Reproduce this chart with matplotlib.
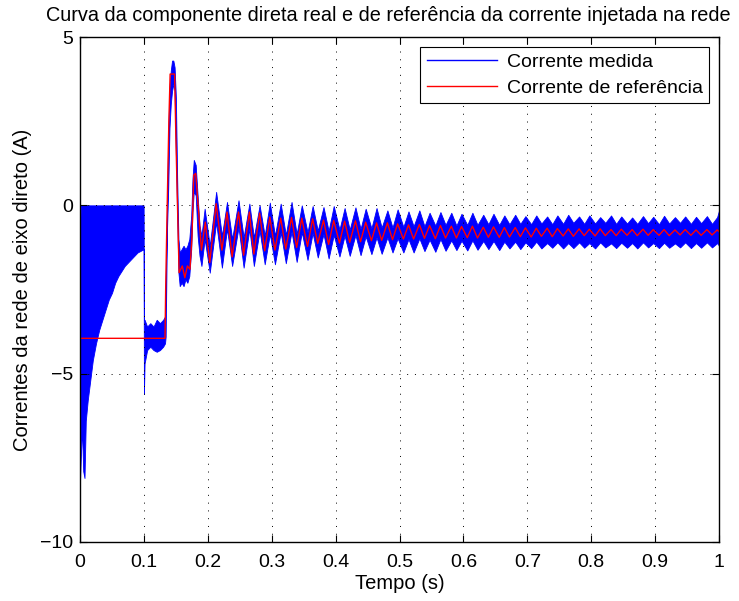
import matplotlib
matplotlib.use("Agg")
import matplotlib.pyplot as plt
from matplotlib.lines import Line2D

plt.rcParams['font.family'] = ['Liberation Sans', 'DejaVu Sans']

# Corrente medida: faixa (maximo / minimo)
t_med = [0.000, 0.001, 0.003, 0.005, 0.007, 0.009, 0.012, 0.016, 0.020, 0.025,
         0.030, 0.035, 0.040, 0.045, 0.050, 0.055, 0.060, 0.065, 0.070, 0.075,
         0.080, 0.085, 0.090, 0.095, 0.0995,
         0.100, 0.101, 0.105, 0.110, 0.115, 0.120, 0.125, 0.130, 0.133,
         0.134, 0.136, 0.138, 0.140, 0.142, 0.144, 0.146, 0.148, 0.150, 0.152,
         0.154, 0.156, 0.159, 0.162, 0.165, 0.168, 0.171, 0.174, 0.176, 0.178,
         0.181, 0.184, 0.187, 0.190, 0.195, 0.203, 0.213, 0.222, 0.230, 0.238,
         0.248, 0.256, 0.265, 0.272, 0.281, 0.289,
         0.297, 0.305, 0.314, 0.322, 0.331, 0.339, 0.347, 0.356, 0.364, 0.372,
         0.381, 0.389, 0.397, 0.406, 0.414, 0.422, 0.431, 0.439, 0.447, 0.456,
         0.464, 0.472, 0.481, 0.489, 0.497, 0.506, 0.514, 0.522, 0.531, 0.539,
         0.547, 0.556, 0.564, 0.572, 0.581, 0.589, 0.597, 0.606, 0.614, 0.622,
         0.631, 0.639, 0.647, 0.656, 0.664, 0.672, 0.681, 0.689, 0.697, 0.706,
         0.714, 0.722, 0.731, 0.739, 0.747, 0.756, 0.764, 0.772, 0.781, 0.789,
         0.797, 0.806, 0.814, 0.822, 0.831, 0.839, 0.847, 0.856, 0.864, 0.872,
         0.881, 0.889, 0.897, 0.906, 0.914, 0.922, 0.931, 0.939, 0.947, 0.956,
         0.964, 0.972, 0.981, 0.989, 0.997, 1.000]
med_max = [-1.4, 0.0, 0.0, 0.0, 0.0, 0.0, 0.0, 0.0, 0.0, 0.0,
           0.0, 0.0, 0.0, 0.0, 0.0, 0.0, 0.0, 0.0, 0.0, 0.0,
           0.0, 0.0, 0.0, 0.0, 0.0,
           -3.4, -3.4, -3.6, -3.5, -3.6, -3.4, -3.5, -3.4, -3.3,
           -2.3, -0.2, 2.0, 3.5, 4.0, 4.3, 4.3, 4.1, 3.2, 0.8,
           -1.0, -1.4, -1.3, -1.2, -1.3, -1.2, -1.0, -0.3, 0.8, 1.35,
           1.2, 0.3, -0.6, -0.9, -0.1, -1.2, 0.4, -0.9, 0.1, -1.0,
           0.15, -0.95, 0.05, -0.95, 0.0, -0.9,
           0.08, -0.90, 0.05, -0.88, 0.10, -0.85, 0.00, -0.80, -0.02, -0.75,
           -0.05, -0.76, -0.02, -0.72, -0.08, -0.72, -0.06, -0.70, -0.10, -0.68,
           -0.08, -0.66, -0.15, -0.66, -0.12, -0.64, -0.18, -0.62, -0.15, -0.62,
           -0.22, -0.60, -0.20, -0.58, -0.22, -0.60, -0.25, -0.58, -0.22, -0.58,
           -0.28, -0.56, -0.25, -0.58, -0.30, -0.56, -0.28, -0.55, -0.32, -0.56,
           -0.30, -0.54, -0.33, -0.56, -0.30, -0.55, -0.28, -0.52, -0.33, -0.55,
           -0.30, -0.54, -0.35, -0.52, -0.30, -0.55, -0.33, -0.54, -0.36, -0.55,
           -0.32, -0.53, -0.34, -0.56, -0.31, -0.54, -0.35, -0.52, -0.33, -0.55,
           -0.34, -0.53, -0.32, -0.55, -0.35, -0.15]
med_min = [-8.2, -7.6, -6.6, -7.9, -8.1, -6.4, -5.8, -5.2, -4.6, -4.1,
           -3.7, -3.4, -3.1, -2.8, -2.6, -2.3, -2.1, -1.95, -1.8, -1.7,
           -1.6, -1.5, -1.4, -1.35, -1.3,
           -5.6, -4.7, -4.3, -4.2, -4.3, -4.35, -4.3, -4.2, -4.1,
           -3.9, -0.8, 0.5, 2.3, 3.0, 3.4, 3.6, 3.4, 1.5, -0.3,
           -2.0, -2.4, -2.3, -2.4, -2.2, -2.3, -2.1, -1.3, -0.2, 0.4,
           0.3, -0.9, -1.5, -1.8, -1.0, -2.0, -0.5, -1.85, -0.7, -1.8,
           -0.65, -1.85, -0.7, -1.8, -0.75, -1.75,
           -0.85, -1.75, -0.80, -1.72, -0.78, -1.68, -0.80, -1.62, -0.82, -1.55,
           -0.85, -1.58, -0.88, -1.52, -0.90, -1.50, -0.88, -1.48, -0.92, -1.45,
           -0.95, -1.44, -0.95, -1.40, -0.98, -1.40, -1.00, -1.40, -0.98, -1.36,
           -1.02, -1.38, -1.00, -1.35, -1.04, -1.33, -1.05, -1.34, -1.04, -1.32,
           -1.06, -1.30, -1.06, -1.33, -1.08, -1.28, -1.08, -1.30, -1.10, -1.27,
           -1.08, -1.28, -1.12, -1.26, -1.10, -1.28, -1.12, -1.27, -1.10, -1.26,
           -1.12, -1.28, -1.10, -1.25, -1.13, -1.27, -1.11, -1.26, -1.12, -1.28,
           -1.10, -1.25, -1.12, -1.27, -1.11, -1.26, -1.13, -1.25, -1.10, -1.27,
           -1.12, -1.26, -1.10, -1.25, -1.12, -1.20]

# Corrente de referencia
t_ref = [0.000, 0.133, 0.134, 0.136, 0.139, 0.141, 0.148, 0.150, 0.152, 0.155,
         0.160, 0.164, 0.168, 0.172, 0.175, 0.178, 0.181, 0.186, 0.190, 0.196,
         0.203, 0.213, 0.222, 0.230, 0.238, 0.248, 0.256, 0.265, 0.272, 0.281,
         0.289,
         0.297, 0.305, 0.314, 0.322, 0.331, 0.339, 0.347, 0.356, 0.364, 0.372,
         0.381, 0.389, 0.397, 0.406, 0.414, 0.422, 0.431, 0.439, 0.447, 0.456,
         0.464, 0.472, 0.481, 0.489, 0.497, 0.506, 0.514, 0.522, 0.531, 0.539,
         0.547, 0.556, 0.564, 0.572, 0.581, 0.589, 0.597, 0.606, 0.614, 0.622,
         0.631, 0.639, 0.647, 0.656, 0.664, 0.672, 0.681, 0.689, 0.697, 0.706,
         0.714, 0.722, 0.731, 0.739, 0.747, 0.756, 0.764, 0.772, 0.781, 0.789,
         0.797, 0.806, 0.814, 0.822, 0.831, 0.839, 0.847, 0.856, 0.864, 0.872,
         0.881, 0.889, 0.897, 0.906, 0.914, 0.922, 0.931, 0.939, 0.947, 0.956,
         0.964, 0.972, 0.981, 0.989, 0.997, 1.000]
i_ref = [-3.95, -3.95, -2.5, -0.4, 2.5, 3.9, 3.9, 2.0, 0.4, -2.0,
         -1.8, -2.15, -1.8, -1.9, -1.0, 0.9, 0.95, -0.3, -1.33, -0.5,
         -1.7, 0.05, -1.33, -0.2, -1.53, -0.2, -1.48, -0.2, -1.45, -0.23,
         -1.35,
         -0.35, -1.33, -0.38, -1.30, -0.36, -1.25, -0.38, -1.22, -0.40, -1.13,
         -0.44, -1.16, -0.45, -1.12, -0.47, -1.10, -0.46, -1.08, -0.50, -1.05,
         -0.52, -1.04, -0.52, -1.02, -0.55, -1.00, -0.58, -1.00, -0.57, -0.98,
         -0.60, -0.99, -0.60, -0.97, -0.62, -0.97, -0.63, -0.96, -0.62, -0.97,
         -0.65, -0.95, -0.64, -0.95, -0.66, -0.94, -0.66, -0.93, -0.67, -0.94,
         -0.68, -0.92, -0.68, -0.93, -0.69, -0.91, -0.70, -0.92, -0.70, -0.90,
         -0.71, -0.91, -0.70, -0.90, -0.72, -0.90, -0.71, -0.89, -0.72, -0.90,
         -0.71, -0.89, -0.72, -0.89, -0.72, -0.90, -0.73, -0.88, -0.72, -0.89,
         -0.73, -0.89, -0.72, -0.88, -0.73, -0.78]

fig = plt.figure(figsize=(7.39, 6.01), dpi=100)
ax = fig.add_axes([0.1083, 0.0982, 0.8647, 0.8402])

ax.fill_between(t_med, med_min, med_max, color='#0000ff', lw=0.6, edgecolor='#0000ff')
ax.plot(t_ref, i_ref, color='#ff0000', lw=1.0)

ax.set_xlim(0, 1)
ax.set_ylim(-10, 5)
ax.set_xticks([0, 0.1, 0.2, 0.3, 0.4, 0.5, 0.6, 0.7, 0.8, 0.9, 1])
ax.set_xticklabels(['0', '0.1', '0.2', '0.3', '0.4', '0.5', '0.6', '0.7', '0.8', '0.9', '1'])
ax.set_yticks([-10, -5, 0, 5])
ax.tick_params(direction='in', top=True, right=True, length=5, labelsize=14, width=0.8)
ax.tick_params(axis='x', pad=9)
ax.tick_params(axis='y', pad=5)
ax.grid(True, color='black', linestyle=(0, (1, 7)), linewidth=0.7)
for s in ax.spines.values():
    s.set_linewidth(1.0)

ax.set_xlabel('Tempo (s)', fontsize=14.5, labelpad=2)
ax.set_ylabel('Correntes da rede de eixo direto (A)', fontsize=14.5, labelpad=6)
fig.text(388 / 739, 1 - 21 / 601, 'Curva da componente direta real e de referência da corrente injetada na rede',
         ha='center', va='baseline', fontsize=14.3)

handles = [Line2D([], [], color='#0000ff', lw=1.0), Line2D([], [], color='#ff0000', lw=1.0)]
leg = ax.legend(handles, ['Corrente medida', 'Corrente de referência'], loc='upper right',
                fontsize=14, handlelength=3.6, handletextpad=0.5, fancybox=False, framealpha=1,
                edgecolor='black', borderaxespad=0.5, borderpad=0.35, labelspacing=0.4)
leg.get_frame().set_linewidth(0.8)

plt.savefig('out.png', dpi=100)
